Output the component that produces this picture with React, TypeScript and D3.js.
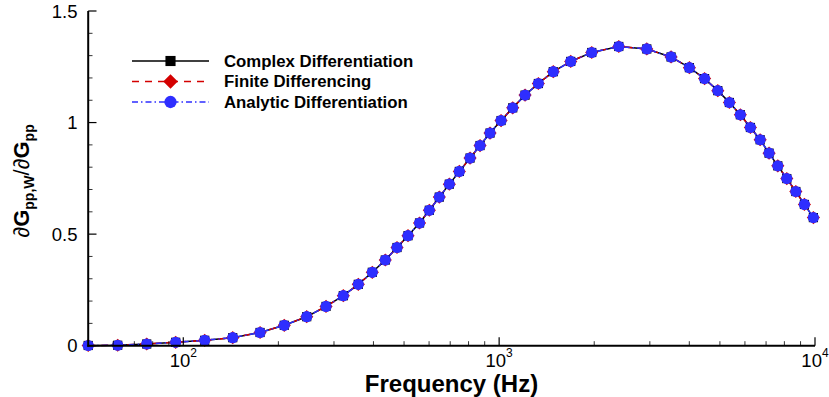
import React from "react";
import * as d3 from "d3";

const freqs = [50, 62, 76.6, 94.6, 116.9, 143.4, 175, 208.8, 245.9, 283.1, 321.1, 358.2, 396.7, 436.1, 475, 514.6, 559.7, 601.2, 646.6, 695.6, 748.1, 808.9, 870, 935.8, 1014, 1104, 1208, 1331, 1484, 1685, 1964, 2392, 2934, 3502, 4003, 4471, 4923, 5358, 5804, 6245, 6704, 7155, 7625, 8141, 8696, 9258, 9883];
const complexDiff = [0.001, 0.002, 0.0076, 0.0153, 0.0242, 0.0359, 0.0592, 0.0915, 0.13, 0.176, 0.224, 0.275, 0.329, 0.384, 0.44, 0.493, 0.55, 0.607, 0.666, 0.724, 0.781, 0.841, 0.897, 0.953, 1.009, 1.066, 1.123, 1.175, 1.228, 1.274, 1.314, 1.341, 1.33, 1.294, 1.246, 1.197, 1.143, 1.09, 1.035, 0.978, 0.923, 0.863, 0.806, 0.749, 0.691, 0.633, 0.574];
const finiteDiff = [0.001, 0.002, 0.0076, 0.0153, 0.0242, 0.0359, 0.0592, 0.0915, 0.13, 0.176, 0.224, 0.275, 0.329, 0.384, 0.44, 0.493, 0.55, 0.607, 0.666, 0.724, 0.781, 0.841, 0.897, 0.953, 1.009, 1.066, 1.123, 1.175, 1.228, 1.274, 1.314, 1.341, 1.33, 1.294, 1.246, 1.197, 1.143, 1.09, 1.035, 0.978, 0.923, 0.863, 0.806, 0.749, 0.691, 0.633, 0.574];
const analyticDiff = [0.001, 0.002, 0.0076, 0.0153, 0.0242, 0.0359, 0.0592, 0.0915, 0.13, 0.176, 0.224, 0.275, 0.329, 0.384, 0.44, 0.493, 0.55, 0.607, 0.666, 0.724, 0.781, 0.841, 0.897, 0.953, 1.009, 1.066, 1.123, 1.175, 1.228, 1.274, 1.314, 1.341, 1.33, 1.294, 1.246, 1.197, 1.143, 1.09, 1.035, 0.978, 0.923, 0.863, 0.806, 0.749, 0.691, 0.633, 0.574];

const seriesNames = ["Complex Differentiation", "Finite Differencing", "Analytic Differentiation"];
const yTicks = [0, 0.5, 1, 1.5];
const yTickLabels = ["0", "0.5", "1", "1.5"];
const xMajorTicks = [100, 1000, 10000];
const xTickExponents = ["2", "3", "4"];

const W = 829;
const H = 397;
const FONT = "'Liberation Sans', Arial, Helvetica, sans-serif";

type Style = { color: string; dash: string | null; marker: "square" | "diamond" | "circle" };
const styles: Style[] = [
  { color: "#000000", dash: null, marker: "square" },
  { color: "#d40000", dash: "7,6", marker: "diamond" },
  { color: "#2e2eff", dash: "6,3,1.5,3", marker: "circle" },
];

function Marker({ kind, x, y, color, s = 1 }: { kind: Style["marker"]; x: number; y: number; color: string; s?: number }) {
  if (kind === "square") {
    const h = 4.6 * s;
    return <rect x={x - h} y={y - h} width={2 * h} height={2 * h} fill={color} />;
  }
  if (kind === "diamond") {
    const r = 6.6 * s;
    return <path d={`M${x},${y - r}L${x + r},${y}L${x},${y + r}L${x - r},${y}Z`} fill={color} />;
  }
  return <circle cx={x} cy={y} r={5.6 * s} fill={color} />;
}

export default function App() {
  const x = d3.scaleLog().domain([50, 10000]).range([88.2, 815]);
  const y = d3.scaleLinear().domain([0, 1.5]).range([345.7, 11]);
  const all = [complexDiff, finiteDiff, analyticDiff];

  const line = d3
    .line<number>()
    .x((_, i) => x(freqs[i]))
    .y((d) => y(d));

  const xMinor: number[] = [];
  [10, 100, 1000].forEach((dec) => {
    for (let k = 2; k <= 9; k++) {
      const v = dec * k;
      if (v > 50 && v < 10000) xMinor.push(v);
    }
  });
  const yMinor = d3.range(0, 1.501, 0.1).filter((v) => Math.abs(v * 2 - Math.round(v * 2)) > 1e-6);

  const legendY = [61, 81.5, 102];

  return (
    <div style={{ position: "absolute", left: 0, top: 0 }}>
      <svg width={W} height={H} style={{ display: "block", background: "#fff" }} fontFamily={FONT}>
        {all.map((vals, si) => (
          <path
            key={"l" + si}
            d={line(vals) || ""}
            fill="none"
            stroke={styles[si].color}
            strokeWidth={1.5}
            strokeDasharray={styles[si].dash || undefined}
          />
        ))}
        {all.map((vals, si) => (
          <g key={"m" + si}>
            {vals.map((v, i) => (
              <Marker key={i} kind={styles[si].marker} x={x(freqs[i])} y={y(v)} color={styles[si].color} />
            ))}
          </g>
        ))}

        <line x1={88.2} x2={88.2} y1={y(1.5)} y2={y(0) + 1} stroke="#000" strokeWidth={2} />
        <line x1={87.2} x2={815} y1={y(0)} y2={y(0)} stroke="#000" strokeWidth={2} />
        {yTicks.map((t) => (
          <line key={"yt" + t} x1={88.2} x2={96.5} y1={y(t)} y2={y(t)} stroke="#000" strokeWidth={1.2} />
        ))}
        {yMinor.map((t) => (
          <line key={"ym" + t} x1={88.2} x2={92.5} y1={y(t)} y2={y(t)} stroke="#000" strokeWidth={0.8} />
        ))}
        {yTicks.map((t, i) => (
          <text key={"yl" + t} x={77.5} y={y(t)} textAnchor="end" dominantBaseline="central" fontSize={18.5}>
            {yTickLabels[i]}
          </text>
        ))}
        {xMajorTicks.map((t) => (
          <line key={"xt" + t} x1={x(t)} x2={x(t)} y1={y(0)} y2={y(0) - 8.5} stroke="#000" strokeWidth={1.2} />
        ))}
        {xMinor.map((t) => (
          <line key={"xm" + t} x1={x(t)} x2={x(t)} y1={y(0)} y2={y(0) - 4.5} stroke="#000" strokeWidth={0.8} />
        ))}
        {xMajorTicks.map((t, i) => (
          <text key={"xl" + t} x={x(t)} y={366.5} textAnchor="middle" fontSize={18.5}>
            10
            <tspan dy={-9.5} fontSize={12}>
              {xTickExponents[i]}
            </tspan>
          </text>
        ))}

        <text x={451.5} y={392} textAnchor="middle" fontSize={24} fontWeight="bold">
          Frequency (Hz)
        </text>
        <text transform={`translate(28.5,181) rotate(-90)`} textAnchor="middle" fontSize={22} fontWeight="bold">
          <tspan fontWeight="normal">∂</tspan>G
          <tspan dy={5} fontSize={14}>pp,W</tspan>
          <tspan dy={-5} fontWeight="normal">/∂</tspan>G
          <tspan dy={5} fontSize={14}>pp</tspan>
        </text>

        {seriesNames.map((name, i) => (
          <g key={"lg" + i}>
            <line
              x1={132}
              x2={209}
              y1={legendY[i]}
              y2={legendY[i]}
              stroke={styles[i].color}
              strokeWidth={1.5}
              strokeDasharray={styles[i].dash || undefined}
            />
            <Marker kind={styles[i].marker} x={170.5} y={legendY[i]} color={styles[i].color} s={1.1} />
            <text x={224} y={legendY[i]} dominantBaseline="central" fontSize={16.8} fontWeight="bold">
              {name}
            </text>
          </g>
        ))}
      </svg>
    </div>
  );
}
